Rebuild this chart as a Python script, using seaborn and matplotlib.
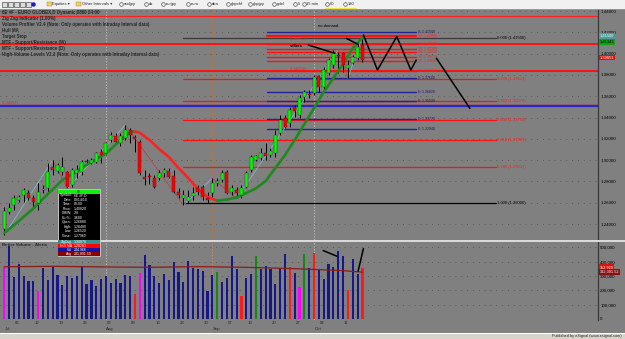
import numpy as np
import pandas as pd
import matplotlib
matplotlib.use("Agg")
import matplotlib.pyplot as plt
import matplotlib.transforms as mtransforms
from matplotlib.patches import Rectangle
import seaborn as sns

sns.set_style("white")
plt.rcParams["font.family"] = ["Liberation Sans", "DejaVu Sans"]

# ------------------------------------------------------------------ data
holidays = [pd.Timestamp("2010-07-05"), pd.Timestamp("2010-09-06")]
trade_dates = [d for d in pd.bdate_range("2010-07-01", "2010-10-15") if d not in holidays]

opens = [1.2350, 1.2515, 1.2578, 1.2625, 1.2672, 1.2688, 1.2641, 1.2594, 1.2720, 1.2735,
         1.2938, 1.2900, 1.2890, 1.2891, 1.2766, 1.2880, 1.2891, 1.2990, 1.2975, 1.2985,
         1.3080, 1.3064, 1.3189, 1.3226, 1.3160, 1.3205, 1.3283, 1.3220, 1.3173, 1.2844,
         1.2850, 1.2829, 1.2829, 1.2880, 1.2900, 1.2850, 1.2703, 1.2641, 1.2619, 1.2663,
         1.2735, 1.2750, 1.2640, 1.2688, 1.2782, 1.2813, 1.2891, 1.2703, 1.2719, 1.2672,
         1.2750, 1.2907, 1.3005, 1.3017, 1.3070, 1.3050, 1.3064, 1.3252, 1.3392, 1.3346,
         1.3496, 1.3424, 1.3595, 1.3620, 1.3627, 1.3790, 1.3689, 1.3815, 1.3893, 1.3990,
         1.4003, 1.3862, 1.3915, 1.3956, 1.4081]
highs = [1.2560, 1.2594, 1.2672, 1.2672, 1.2735, 1.2719, 1.2672, 1.2782, 1.2770, 1.2970,
         1.3001, 1.2970, 1.3032, 1.2900, 1.2923, 1.2950, 1.3001, 1.3010, 1.3020, 1.3080,
         1.3101, 1.3174, 1.3267, 1.3251, 1.3250, 1.3330, 1.3299, 1.3240, 1.3189, 1.2907,
         1.2880, 1.2860, 1.2907, 1.2923, 1.2923, 1.2907, 1.2735, 1.2719, 1.2719, 1.2750,
         1.2766, 1.2766, 1.2700, 1.2829, 1.2829, 1.2907, 1.2907, 1.2766, 1.2750, 1.2766,
         1.2900, 1.3048, 1.3048, 1.3111, 1.3158, 1.3110, 1.3283, 1.3424, 1.3424, 1.3501,
         1.3517, 1.3611, 1.3658, 1.3658, 1.3799, 1.3799, 1.3877, 1.3956, 1.4034, 1.4018,
         1.4018, 1.3940, 1.3987, 1.4112, 1.4165]
lows = [1.2300, 1.2494, 1.2531, 1.2610, 1.2609, 1.2625, 1.2547, 1.2531, 1.2690, 1.2703,
        1.2860, 1.2880, 1.2860, 1.2735, 1.2750, 1.2830, 1.2860, 1.2955, 1.2960, 1.2970,
        1.2970, 1.3048, 1.3173, 1.3158, 1.3130, 1.3189, 1.3158, 1.3080, 1.2860, 1.2766,
        1.2780, 1.2735, 1.2813, 1.2840, 1.2829, 1.2688, 1.2641, 1.2578, 1.2594, 1.2625,
        1.2672, 1.2625, 1.2600, 1.2656, 1.2760, 1.2797, 1.2680, 1.2672, 1.2641, 1.2641,
        1.2735, 1.2890, 1.2995, 1.3001, 1.3001, 1.3030, 1.3032, 1.3236, 1.3299, 1.3314,
        1.3408, 1.3392, 1.3548, 1.3580, 1.3611, 1.3642, 1.3658, 1.3799, 1.3862, 1.3815,
        1.3830, 1.3768, 1.3905, 1.3940, 1.3924]
closes = [1.2520, 1.2553, 1.2641, 1.2650, 1.2719, 1.2641, 1.2609, 1.2703, 1.2725, 1.2891,
          1.2907, 1.2954, 1.2940, 1.2750, 1.2907, 1.2910, 1.2985, 1.2985, 1.3001, 1.3070,
          1.3048, 1.3158, 1.3236, 1.3173, 1.3225, 1.3286, 1.3236, 1.3200, 1.2876, 1.2820,
          1.2845, 1.2750, 1.2882, 1.2907, 1.2844, 1.2703, 1.2672, 1.2672, 1.2650, 1.2694,
          1.2703, 1.2650, 1.2630, 1.2782, 1.2806, 1.2876, 1.2695, 1.2735, 1.2688, 1.2735,
          1.2876, 1.3032, 1.3035, 1.3070, 1.3039, 1.3090, 1.3236, 1.3377, 1.3314, 1.3470,
          1.3464, 1.3580, 1.3642, 1.3615, 1.3783, 1.3689, 1.3846, 1.3940, 1.4003, 1.3980,
          1.3893, 1.3893, 1.3965, 1.4065, 1.3940]

volumes = [362000, 510000, 296000, 385000, 303000, 264000, 264000, 194000, 359000, 273000,
           362000, 308000, 240000, 301000, 289000, 301000, 369000, 245000, 273000, 233000,
           282000, 301000, 252000, 282000, 254000, 306000, 301000, 175000, 322000, 448000,
           380000, 301000, 250000, 313000, 273000, 401000, 327000, 261000, 406000, 357000,
           352000, 336000, 194000, 310000, 329000, 261000, 289000, 441000, 348000, 161000,
           289000, 315000, 441000, 350000, 371000, 352000, 247000, 348000, 455000, 362000,
           324000, 222000, 455000, 355000, 462000, 341000, 280000, 387000, 362000, 476000,
           441000, 205000, 420000, 313000, 357000]
vol_alert = ["climax_low"] + ["normal"] * 6 + ["climax_low"] + ["normal"] * 19 + ["churn_down", "climax_low"] \
    + ["normal"] * 15 + ["churn_up"] + ["normal"] * 4 + ["churn_down"] + ["normal"] * 2 + ["churn_up"] \
    + ["normal"] * 6 + ["churn_down", "normal", "climax_low", "churn_up", "normal", "churn_down"] \
    + ["normal"] * 6 + ["churn_down", "normal", "normal", "churn_down"]

avg_idx = [0, 10, 20, 30, 40, 50, 60, 70, 74]
avg_vol = [365000, 368000, 364000, 361000, 366000, 361000, 352000, 338000, 327000]

hull_idx = [0, 3, 6, 9, 12, 15, 18, 21, 24, 26, 27, 28, 30, 32, 34, 36, 38, 40, 42, 44,
            46, 48, 50, 52, 54, 56, 58, 60, 62, 64, 66, 68, 70, 72, 74]
hull_val = [1.2315, 1.2428, 1.2546, 1.2682, 1.2813, 1.2895, 1.2985, 1.3060, 1.3189, 1.3261,
            1.3269, 1.3257, 1.3189, 1.3104, 1.3029, 1.2926, 1.2832, 1.2729, 1.2654, 1.2619,
            1.2630, 1.2649, 1.2691, 1.2735, 1.2804, 1.2926, 1.3048, 1.3189, 1.3339, 1.3489,
            1.3639, 1.3771, 1.3902, 1.4053, 1.4147]

zz_idx = [0, 10, 13, 25, 37, 43, 48, 69, 71, 74]
zz_val = [1.2297, 1.3001, 1.2735, 1.3330, 1.2578, 1.2829, 1.2641, 1.4034, 1.3768, 1.4165]

fib_ratios = ["0.000", "0.236", "0.382", "0.500", "0.618", "0.786", "1.000"]
fib_prices = [1.41500, 1.37621, 1.35579, 1.33750, 1.31921, 1.29317, 1.26000]
fib_start, fib_end = 37, 101.5

sr_labels = ["0: 1.41500", "30: 1.41000", "30: 1.40670", "30: 1.40380", "30: 1.40100",
             "30: 1.39710", "30: 1.39000", "30: 1.38310", "0: 1.37600", "0: 1.36020",
             "0: 1.35520", "0: 1.33770", "0: 1.32940"]
sr_prices = [1.4200, 1.4168, 1.4093, 1.4043, 1.4012, 1.3971, 1.3931, 1.3834, 1.3768,
             1.3637, 1.3555, 1.3383, 1.3289]
sr_start, sr_end = 54.3, 85.0

full_red_thin = [1.4356]
full_red_thick = [1.4093, 1.3839]
level_band_red, level_band_blue = 1.3522, 1.3505

ann_sellers = ([62.8, 68.3], [1.4081, 1.4003])
ann_nodemand = ([70.7, 73.0], [1.4143, 1.4089])
ann_proj = ([74.2, 77.1, 81.1, 84.0, 85.1], [1.4175, 1.3846, 1.4160, 1.3846, 1.3940])
ann_proj2 = ([89.3, 96.2], [1.3956, 1.3486])
vol_ann1 = ([65.9, 68.7], [478000, 439000])
vol_ann2 = ([73.1, 74.2], [334000, 492000])

price_ticks = [1.24, 1.26, 1.28, 1.30, 1.32, 1.34, 1.36, 1.38, 1.40, 1.42, 1.44]
vol_ticks = [0, 100000, 200000, 300000, 400000, 500000]

# ------------------------------------------------------------------ style
W, H = 625, 339
BG = "#808080"
GREEN_C, RED_C = "#00ff00", "#ff0000"
vol_palette = {"normal": "#17178c", "climax_low": "#ff00ff", "churn_down": "#ff1a1a",
               "churn_up": "#128a12"}

fig = plt.figure(figsize=(W / 100, H / 100), dpi=100, facecolor=BG)


def px_axes(x, y, w, h, **kw):
    return fig.add_axes([x / W, 1 - (y + h) / H, w / W, h / H], **kw)


ax = px_axes(0, 9, 598, 231)
axv = px_axes(0, 242, 598, 78)
axo = px_axes(0, 0, W, H, zorder=30)
axo.set_xlim(0, W)
axo.set_ylim(H, 0)
axo.axis("off")

for a in (ax, axv):
    a.set_facecolor(BG)
    a.set_xlim(-0.888, 122.67)
    for s in ("left", "top", "bottom"):
        a.spines[s].set_visible(False)
    a.spines["right"].set_color("#3a3a3a")
    a.spines["right"].set_linewidth(0.9)
    a.set_xticks([])
    a.yaxis.tick_right()
    a.tick_params(axis="y", length=0, pad=1.6, labelsize=3.2, labelcolor="black")

ax.set_ylim(1.2250, 1.4419)
axv.set_ylim(-7000, 538000)

ax.set_yticks(price_ticks)
ax.set_yticklabels([f"{p:.5f}" for p in price_ticks])
axv.set_yticks(vol_ticks)
axv.set_yticklabels([f"{v:,}" for v in vol_ticks])

dot = (0, (1, 6))
for p in price_ticks:
    ax.axhline(p, color="#4a4a4a", lw=0.6, ls=dot, zorder=0.5)
for v in vol_ticks[1:]:
    axv.axhline(v, color="#4a4a4a", lw=0.6, ls=dot, zorder=0.5)

x = np.arange(len(trade_dates))

# month boundaries
month_first = [i for i in range(len(trade_dates))
               if i == 0 or trade_dates[i].month != trade_dates[i - 1].month]
for i in month_first[1:]:
    sep = trade_dates[i].month == 9
    ax.axvline(i, color="#d0702a" if sep else "#b8b8b8", lw=0.7, ls=(0, (1.5, 1.5)), zorder=0.6)
    axv.axvline(i, color="#d08070" if sep else "#b8b8b8", lw=0.7, ls=(0, (1.5, 1.5)), zorder=0.6)

# full width levels
for p in full_red_thin:
    ax.axhline(p, color="#ff2020", lw=0.8, zorder=1)
for p in full_red_thick:
    ax.axhline(p, color="#ff1010", lw=1.4, zorder=1)
ax.axhline(level_band_red, color="#ff1010", lw=1.0, zorder=1)
ax.axhline(level_band_blue, color="#2828c8", lw=1.6, zorder=1)

# fib lines
for r, p in zip(fib_ratios, fib_prices):
    col = "#3a3a3a" if r == "0.000" else ("black" if r == "1.000" else "#ff1010")
    ax.plot([fib_start, fib_end], [p, p], color=col, lw=0.9, zorder=1.2)
    ax.text(fib_end + 0.3, p, f"{r} ({p:.5f})", color="black" if r in ("0.000", "1.000") else "#ff1a1a",
            fontsize=3.0, va="center", ha="left", zorder=5)

# S/R lines
for lab, p in zip(sr_labels, sr_prices):
    col = "#ff1010" if lab.startswith("30") else "#22229a"
    ax.plot([sr_start, sr_end], [p, p], color=col, lw=1.0 if lab != "30: 1.41000" else 1.6, zorder=1.3)
    ax.text(sr_end + 0.4, p, lab, color="#ff2020" if lab.startswith("30") else "#14145a",
            fontsize=2.5, va="center", ha="left", zorder=5)

# zigzag
for k in range(len(zz_idx) - 1):
    up = zz_val[k + 1] > zz_val[k]
    ax.plot(zz_idx[k:k + 2], zz_val[k:k + 2], color="#7cc4cc" if up else "#c03838",
            lw=0.5, zorder=1.5)

# candles
o, h, l, c = map(np.array, (opens, highs, lows, closes))
ax.vlines(x, l, h, color="black", lw=0.7, zorder=3)
body_col = np.where(c > o, GREEN_C, RED_C)
ax.bar(x, np.maximum(np.abs(c - o), 0.0004), bottom=np.minimum(o, c), width=0.62,
       color=body_col, edgecolor="#1a1a1a", linewidth=0.25, zorder=4)

# Hull MA coloured by slope
hull_df = pd.DataFrame({"idx": hull_idx, "hull": hull_val})
direction = np.sign(np.diff(hull_val))
start = 0
for k in range(1, len(direction) + 1):
    if k == len(direction) or direction[k] != direction[start]:
        seg = hull_df.iloc[start:k + 1]
        sns.lineplot(data=seg, x="idx", y="hull", ax=ax,
                     color="#1d8a1d" if direction[start] > 0 else "#ff2020",
                     lw=1.9, estimator=None, sort=False, legend=False, zorder=3.5,
                     solid_capstyle="round")
        start = k
ax.set_xlabel("")
ax.set_ylabel("")

# drawn annotations
for xs, ys in (ann_sellers, ann_nodemand, ann_proj, ann_proj2):
    ax.plot(xs, ys, color="black", lw=1.1, zorder=6, solid_capstyle="round")
ax.text(59.0, 1.4093 + 0.0047, "(1.40852)", color="#ff2020", fontsize=2.9, va="center", zorder=6)
ax.text(59.0, 1.4070, "sellers", color="black", fontsize=3.0, weight="bold", va="center", zorder=6)
ax.text(59.0, 1.3855, "(1.38302)", color="#ff2020", fontsize=2.9, va="center", zorder=6)
ax.text(64.8, 1.4262, "no demand", color="black", fontsize=3.0, va="center", zorder=6)
ax.text(-0.6, 1.3540, "(1.34951)", color="#ff2020", fontsize=2.9, va="center", zorder=6)

# right axis tags
btr = mtransforms.blended_transform_factory(ax.transAxes, ax.transData)
for val, txt, fc, tc in ((1.4164, "1.41500", "#4f9a9a", "#e8ffff"),
                         (1.4108, "1.41341", "#10a010", "black"),
                         (1.3963, "1.39651", "#e01010", "white")):
    ax.text(1.003, val, txt, transform=btr, fontsize=2.9, color=tc, va="center", ha="left",
            bbox=dict(boxstyle="square,pad=0.2", fc=fc, ec="none"), zorder=7, clip_on=False)

# volume bars
axv.bar(x, volumes, width=0.45, color=[vol_palette[a] for a in vol_alert],
        edgecolor="none", linewidth=0, zorder=3)
sns.lineplot(x=avg_idx, y=avg_vol, ax=axv, color="#8b1a1a", lw=0.9, zorder=4, estimator=None)
for xs, ys in (vol_ann1, vol_ann2):
    axv.plot(xs, ys, color="black", lw=1.1, zorder=6)
btv = mtransforms.blended_transform_factory(axv.transAxes, axv.transData)
for val, txt, fc in ((362000, "352,920", "#e01010"), (329000, "312,391.52", "#8b1010")):
    axv.text(1.003, val, txt, transform=btv, fontsize=2.8, color="white", va="center", ha="left",
             bbox=dict(boxstyle="square,pad=0.2", fc=fc, ec="none"), zorder=7, clip_on=False)
axv.text(0.003, 0.96, "Better Volume - Alerts", transform=axv.transAxes, fontsize=3.2,
         weight="bold", va="center", ha="left", zorder=7)

# date labels
bx = mtransforms.blended_transform_factory(axv.transData, axv.transAxes)
for i in range(1, len(trade_dates)):
    if trade_dates[i].weekday() < trade_dates[i - 1].weekday() or (trade_dates[i] - trade_dates[i - 1]).days > 3:
        axv.text(i + 0.2, -0.035, f"{trade_dates[i].day:02d}", transform=bx, fontsize=3.1,
                 ha="left", va="center", clip_on=False)
for i in month_first:
    axv.text(i + 0.1, -0.115, trade_dates[i].strftime("%b"), transform=bx, fontsize=3.1,
             ha="left", va="center", clip_on=False)

# ------------------------------------------------------------------ frame / overlays
axo.add_patch(Rectangle((0, 0), W, 8.5, fc="#f1f1f1", ec="none"))
axo.plot([0, W], [8.5, 8.5], color="#9a9a9a", lw=0.6)
axo.add_patch(Rectangle((0, 240), W, 2, fc="#dadada", ec="none"))
axo.add_patch(Rectangle((0, 332.5), W, 7, fc="#d8d4cc", ec="none"))
axo.plot([0, W], [332.5, 332.5], color="white", lw=0.8)
axo.text(622, 336, "Published by eSignal (www.esignal.com)", fontsize=2.8, ha="right", va="center")

# toolbar
for xi in (2, 8, 14, 20, 26):
    axo.add_patch(Rectangle((xi, 2), 4.5, 4.5, fc="#dcdcdc", ec="#303030", lw=0.4))
axo.plot([33], [4.3], marker="o", ms=2.2, color="#1c1cc0")
tool_items = [(47, "Equities", True), (76, "Other Intervals", True), (119, "audjpy", False),
              (144, "dx", False), (161, "eurjpy", False), (186, "euro", False), (207, "dba", False),
              (226, "gbpchf", False), (248, "gbpjpy", False), (272, "gold", False), (293, "5", False),
              (302, "15 min", False), (325, "60", False), (343, "180", False)]
for xi, txt, folder in tool_items:
    if folder:
        axo.add_patch(Rectangle((xi, 2.3), 4.5, 3.8, fc="#f0d060", ec="#a08020", lw=0.3))
        axo.text(xi + 5.5, 4.4, txt + " \u25be", fontsize=3.0, va="center", ha="left")
    else:
        axo.plot([xi + 1.8], [4.4], marker="o", ms=2.6, mfc="none", mec="#303030", mew=0.4)
        axo.text(xi + 4.5, 4.4, txt, fontsize=3.0, va="center", ha="left")
axo.plot([325, 356], [7.8, 7.8], color="#f0e040", lw=0.8)

# header lines
header = ["6E #F - EURO GLOBEX,D Dynamic,0800 24:00",
          "Zig Zag Indicator (1.00%)",
          "Volume Profiler V2.4 (Note: Only operates with Intraday Interval data)",
          "Hull MA",
          "Target Stop",
          "MTF - Support/Resistance (W)",
          "MTF - Support/Resistance (D)",
          "High-Volume Levels V2.3 (Note: Only operates with Intraday Interval data)"]
for k, t in enumerate(header):
    axo.text(1.5, 12.4 + k * 6.0, t, fontsize=3.25, weight="bold", va="center", ha="left")

# data window box
axo.add_patch(Rectangle((57.7, 189.3), 42.6, 67.0, fc="black", ec="#d8d8d8", lw=0.6))
axo.add_patch(Rectangle((58.3, 189.9), 41.4, 3.7, fc="#10f010", ec="none"))
axo.text(79, 191.7, "6E", fontsize=2.4, ha="center", va="center")
rows = [("Symbol:", "6E #F,D"), ("Date:", "09/14/10"), ("Time:", "08:00"), ("Price:", "1.40820"),
        ("Diff/W:", "-28"), ("Cur%:", "3.600"), ("Open:", "1.26880"), ("High:", "1.28480"),
        ("Low:", "1.26520"), ("Close:", "1.27960")]
for k, (lab, val) in enumerate(rows):
    yy = 195.2 + k * 4.5
    axo.text(72, yy, lab, fontsize=2.5, color="white", ha="right", va="center")
    axo.text(73.5, yy, val, fontsize=2.5, color="white", ha="left", va="center")
color_rows = [("#3c8c8c", "ZigZag", "1.30070"), ("#ff0000", "Hull MA", "1.28283"),
              ("#1414a0", "Vol", "244,968"), ("#8b0000", "Avg", "241,891.59")]
for k, (fc, lab, val) in enumerate(color_rows):
    y0 = 239.6 + k * 4.1
    axo.add_patch(Rectangle((58.3, y0), 41.4, 4.1, fc=fc, ec="none"))
    axo.text(72, y0 + 2.05, lab, fontsize=2.5, color="white", ha="right", va="center")
    axo.text(73.5, y0 + 2.05, val, fontsize=2.5, color="white", ha="left", va="center")

fig.savefig("out.png", dpi=100, facecolor=BG)
